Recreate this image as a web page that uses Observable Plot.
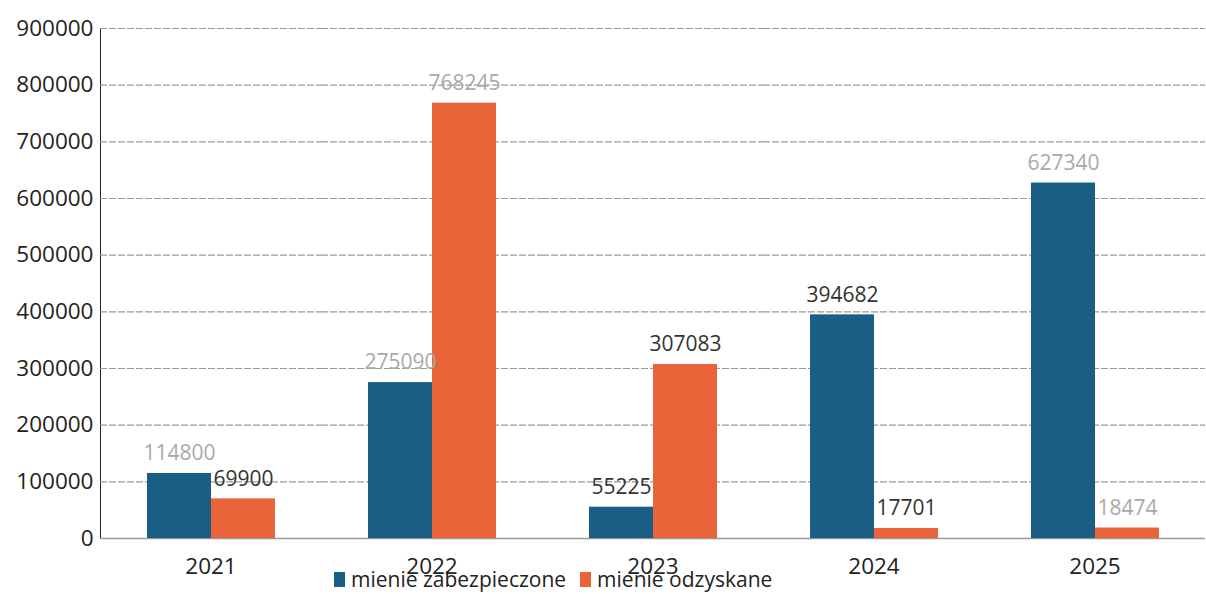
<!DOCTYPE html>
<html><head><meta charset="utf-8">
<script src="https://cdn.jsdelivr.net/npm/d3@7"></script>
<script src="https://cdn.jsdelivr.net/npm/@observablehq/plot@0.6"></script>
<style>
body{margin:0;background:#fff;font-family:"Open Sans",sans-serif;}
#wrap{position:relative;width:1206px;height:594px;}
#legend{position:absolute;left:334px;top:565px;display:flex;gap:14px;font-size:21px;color:#222;}
#legend span.i{display:inline-flex;align-items:center;gap:6px;}
#legend span.sw{display:inline-block;width:11px;height:15px;}
</style></head>
<body><div id="wrap"><div id="chart"></div><div id="legend"></div></div>
<script>
const years = ["2021", "2022", "2023", "2024", "2025"];
const series = ["mienie zabezpieczone", "mienie odzyskane"];
const secured = [114800, 275090, 55225, 394682, 627340];
const recovered = [69900, 768245, 307083, 17701, 18474];
const securedLabelTone = ["light", "light", "dark", "dark", "light"];
const recoveredLabelTone = ["dark", "light", "dark", "dark", "light"];
const yTicks = [0, 100000, 200000, 300000, 400000, 500000, 600000, 700000, 800000, 900000];
const colors = ["#1a5e86", "#ea6439"];

const rows = [];
years.forEach((yr, i) => {
  rows.push({year: yr, series: series[0], value: secured[i], tone: securedLabelTone[i]});
  rows.push({year: yr, series: series[1], value: recovered[i], tone: recoveredLabelTone[i]});
});

const chart = Plot.plot({
  width: 1206, height: 594,
  marginTop: 28, marginBottom: 56, marginLeft: 98, marginRight: 0,
  style: {fontFamily: "Open Sans, sans-serif", background: "#fff", color: "#222", fontSize: "22.5px"},
  fx: {domain: years, padding: 0, label: null, axis: "bottom", tickSize: 0, tickPadding: 20},
  x: {domain: series, paddingInner: 0, paddingOuter: 0.72, axis: null},
  y: {domain: [0, 900000], label: null, ticks: yTicks, tickSize: 0, tickPadding: 7, tickFormat: d => String(d), line: true},
  color: {domain: series, range: colors},
  marks: [
    Plot.ruleY(yTicks, {stroke: "#9a9a9a", strokeDasharray: "7,2", strokeWidth: 1.2}),
    Plot.ruleY([0], {stroke: "#999", strokeWidth: 1.5}),
    Plot.barY(rows, {fx: "year", x: "series", y: "value", fill: "series"}),
    Plot.text(rows, {filter: d => d.tone === "light", fx: "year", x: "series", y: "value", text: d => String(d.value), dy: -20, fontSize: 21, fill: "#a9a9a9"}),
    Plot.text(rows, {filter: d => d.tone === "dark", fx: "year", x: "series", y: "value", text: d => String(d.value), dy: -20, fontSize: 21, fill: "#333"})
  ]
});
document.getElementById("chart").appendChild(chart);
const leg = document.getElementById("legend");
series.forEach((s, i) => {
  const it = document.createElement("span"); it.className = "i";
  const sw = document.createElement("span"); sw.className = "sw"; sw.style.background = colors[i];
  const t = document.createElement("span"); t.textContent = s;
  it.appendChild(sw); it.appendChild(t); leg.appendChild(it);
});
</script>
</body></html>
